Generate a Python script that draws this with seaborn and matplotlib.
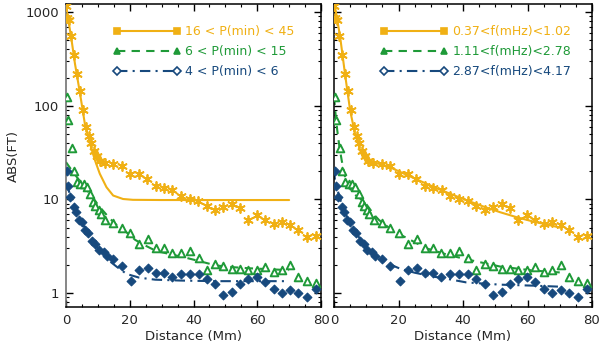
import numpy as np
import pandas as pd
import matplotlib
matplotlib.use("Agg")
import matplotlib.pyplot as plt
import seaborn as sns
from matplotlib.lines import Line2D
from matplotlib.ticker import LogLocator, MultipleLocator, FixedFormatter, FixedLocator, NullFormatter

# measured points (same data in both panels)
orange_x = [0.0, 0.4, 0.9, 1.6, 2.5, 3.3, 4.4, 5.2, 6.2, 7.1, 7.9, 8.7, 9.7, 10.6, 12.2, 14.8, 17.5, 20.2, 22.8, 25.5,
            28.1, 30.7, 33.4, 36.1, 38.8, 41.5, 44.1, 46.7, 49.3, 52.0, 54.6, 57.2, 59.8, 62.4, 65.1, 67.7, 70.3, 72.9, 75.6, 78.3]
orange_y = [1150, 870, 830, 555, 347, 217, 144, 90, 60, 47, 40, 33, 29, 26, 24.6, 24.0, 22.5, 18.8, 18.5, 16.6,
            13.9, 13.2, 12.5, 11.0, 10.0, 9.6, 8.6, 7.8, 8.4, 9.0, 8.1, 6.1, 6.8, 6.1, 5.5, 5.8, 5.3, 4.7, 4.0, 4.1]

green_x = [0.2, 0.7, 1.9, 2.5, 3.4, 4.5, 5.5, 6.6, 7.6, 8.6, 9.2, 10.2, 11.0, 12.3, 14.9, 17.5, 20.1, 22.9, 25.6,
           28.2, 30.8, 33.3, 36.1, 38.8, 41.6, 44.1, 46.8, 49.4, 52.0, 54.6, 57.2, 59.8, 62.4, 65.1, 67.7, 70.3, 72.9, 75.6, 78.3]
green_y = [124, 71, 35.4, 20, 15.5, 14.7, 14.5, 13.5, 11.5, 9.4, 8.6, 7.75, 7.0, 5.96, 5.58, 4.98, 4.36, 3.36, 3.8,
           3.05, 3.05, 2.69, 2.7, 2.8, 2.38, 1.76, 2.02, 1.94, 1.82, 1.81, 1.75, 1.77, 1.92, 1.66, 1.75, 1.98, 1.49, 1.36, 1.28]

blue_x = [0.2, 0.6, 1.35, 2.4, 3.2, 4.0, 5.0, 6.0, 6.9, 8.1, 9.2, 10.2, 11.8, 12.8, 14.9, 17.5, 20.4, 22.9, 25.6, 28.1,
          30.7, 33.3, 36.1, 38.8, 41.6, 44.1, 46.7, 49.4, 52.0, 54.6, 57.2, 59.8, 62.4, 65.1, 67.7, 70.3, 72.9, 75.7, 78.3]
blue_y = [20, 14.0, 10.6, 8.3, 7.3, 6.0, 5.7, 4.66, 4.4, 3.6, 3.36, 2.85, 2.73, 2.46, 2.32, 1.95, 1.36, 1.76, 1.84, 1.63,
          1.63, 1.48, 1.58, 1.58, 1.58, 1.41, 1.25, 0.96, 1.02, 1.25, 1.40, 1.48, 1.32, 1.11, 1.0, 1.08, 0.99, 0.90, 1.11]

# fitted curves, left panel (period bands)
fitL_orange_x = [0, 0.2, 1.6, 2.8, 4.4, 5.9, 7.5, 9.1, 10.6, 12.7, 14.8, 17.9, 21.0, 30, 45, 70]
fitL_orange_y = [1300, 1050, 545, 283, 135, 64.6, 39.5, 26.1, 18.8, 13.5, 11.0, 10.1, 9.9, 9.85, 9.85, 9.85]
fitL_green_x = [0, 2.0, 4.0, 6.0, 8.6, 10.2, 13.3, 15.4, 18.5, 21.7, 23.8, 26.9, 30.0, 37.7, 41.9, 47.1, 52.3, 57.5, 67.9, 70.0]
fitL_green_y = [25, 20, 16.3, 13.3, 10.3, 8.6, 6.5, 5.5, 4.6, 3.7, 3.36, 2.97, 2.73, 2.38, 2.19, 1.97, 1.89, 1.84, 1.77, 1.76]
fitL_blue_x = [0, 1, 2, 3, 4.5, 6, 8, 10, 12, 14, 16, 19, 23, 28, 36, 47, 70]
fitL_blue_y = [15, 12, 9.6, 7.9, 6.2, 4.9, 3.8, 3.0, 2.5, 2.15, 1.9, 1.6, 1.46, 1.39, 1.36, 1.34, 1.34]

# fitted curves, right panel (frequency bands)
fitR_orange_x = [0, 0.3, 1.9, 3.4, 5.0, 6.5, 8.1, 9.1, 10.2, 12.2, 17.4, 22.5, 27.7, 32.9, 36.0, 41.1, 46.3, 51.5, 56.7, 61.8, 67.0, 70.0]
fitR_orange_y = [1300, 1150, 545, 220, 89, 50.5, 33.4, 28, 26.5, 25, 22, 18.3, 15.2, 12.7, 11.5, 9.8, 8.4, 7.3, 6.45, 5.8, 5.3, 5.0]
fitR_green_x = [0, 0.5, 1.0, 1.7, 2.4, 3.3, 4.4, 5.5, 6.5, 7.8, 9.6, 11.0, 12.2, 14.0, 17.0, 20.0, 23.0, 28.7, 36.0, 43.0, 51.5, 61.8, 70.0]
fitR_green_y = [125, 80, 55, 36, 26, 18, 14, 12.2, 11.2, 10.4, 9.3, 8.0, 7.0, 6.0, 5.0, 4.3, 3.8, 3.0, 2.52, 2.22, 1.92, 1.74, 1.66]
fitR_blue_x = [0, 0.3, 1.9, 3.4, 6.0, 9.1, 12.0, 14.3, 17.0, 20.5, 25.0, 30.8, 36.0, 41.0, 51.5, 61.8, 70.0]
fitR_blue_y = [21, 16, 10, 7.2, 4.8, 3.4, 2.7, 2.35, 2.05, 1.82, 1.65, 1.5, 1.4, 1.3, 1.23, 1.2, 1.17]

labels_left = ["16 < P(min) < 45", "6 < P(min) < 15", "4 < P(min) < 6"]
labels_right = ["0.37<f(mHz)<1.02", "1.11<f(mHz)<2.78", "2.87<f(mHz)<4.17"]
yticks = [1, 10, 100, 1000]
xticks = [0, 20, 40, 60, 80]

c_or = "#f0b014"
c_gr = "#1f9a38"
c_bl = "#17497d"
colors = [c_or, c_gr, c_bl]
styles = ["-", (0, (4, 3)), (0, (5, 2.5, 1, 2.5))]

sns.set_style("ticks")
plt.rcParams["font.family"] = ["DejaVu Sans"]

fig = plt.figure(figsize=(6.0, 3.52), dpi=100)
axL = fig.add_axes([66 / 600, 45 / 352, 255 / 600, 303 / 352])
axR = fig.add_axes([334 / 600, 45 / 352, 258 / 600, 303 / 352])


def draw_points(ax):
    sns.scatterplot(x=orange_x, y=orange_y, ax=ax, marker=(6, 2, 0), s=42,
                    color=c_or, edgecolor=c_or, linewidth=1.3, zorder=3)
    sns.scatterplot(x=green_x, y=green_y, ax=ax, marker="^", s=30,
                    color="white", edgecolor=c_gr, linewidth=1.4, zorder=3)
    sns.scatterplot(x=blue_x, y=blue_y, ax=ax, marker="D", s=20,
                    color=c_bl, edgecolor=c_bl, linewidth=0.8, zorder=3)


def draw_fits(ax, fits):
    for (fx, fy), c, ls in zip(fits, colors, styles):
        sns.lineplot(x=fx, y=fy, ax=ax, color=c, linestyle=ls, linewidth=1.5,
                     sort=False, estimator=None, zorder=2)


def style_axes(ax, left):
    ax.set_yscale("log")
    ax.set_xlim(0, 80)
    ax.set_ylim(0.71, 1220)
    ax.xaxis.set_major_locator(FixedLocator(xticks))
    ax.xaxis.set_minor_locator(MultipleLocator(5))
    ax.yaxis.set_major_locator(FixedLocator(yticks))
    ax.yaxis.set_minor_locator(LogLocator(base=10, subs=np.arange(2, 10)))
    ax.yaxis.set_minor_formatter(NullFormatter())
    if left:
        ax.yaxis.set_major_formatter(FixedFormatter([str(v) for v in yticks]))
        ax.set_ylabel("ABS(FT)", fontsize=9.5, labelpad=4)
    else:
        ax.yaxis.set_major_formatter(NullFormatter())
        ax.set_ylabel("")
    ax.set_xlabel("Distance (Mm)", fontsize=9.5, labelpad=2)
    ax.tick_params(which="both", direction="in", top=True, right=True, labelsize=9.5, color="black")
    ax.tick_params(which="major", length=5, width=1.0, pad=5)
    ax.tick_params(which="minor", length=2.5, width=0.8)
    for sp in ax.spines.values():
        sp.set_visible(True)
        sp.set_color("black")
        sp.set_linewidth(1.1)
    if left:
        ax.spines["left"].set_color("#666666")


def add_legend(ax, labels, x0):
    marks = [("s", c_or), ("^", c_gr), ("D", "white")]
    handles = []
    for (m, fc), c, ls in zip(marks, colors, styles):
        handles.append(Line2D([], [], color=c, linestyle=ls, linewidth=1.5, marker=m,
                              markersize=4.5, markerfacecolor=fc, markeredgecolor=c, markeredgewidth=1.2))
    leg = ax.legend(handles, labels, loc="upper left", bbox_to_anchor=(x0, 0.93), frameon=False,
                    borderpad=0, borderaxespad=0, handlelength=5.4, handletextpad=0.4,
                    labelspacing=0.55, numpoints=2, fontsize=9)
    for t, c in zip(leg.get_texts(), colors):
        t.set_color(c)


draw_points(axL)
draw_fits(axL, [(fitL_orange_x, fitL_orange_y), (fitL_green_x, fitL_green_y), (fitL_blue_x, fitL_blue_y)])
style_axes(axL, True)
add_legend(axL, labels_left, 0.184)

draw_points(axR)
draw_fits(axR, [(fitR_orange_x, fitR_orange_y), (fitR_green_x, fitR_green_y), (fitR_blue_x, fitR_blue_y)])
style_axes(axR, False)
add_legend(axR, labels_right, 0.178)

fig.savefig("out.png", dpi=100)
